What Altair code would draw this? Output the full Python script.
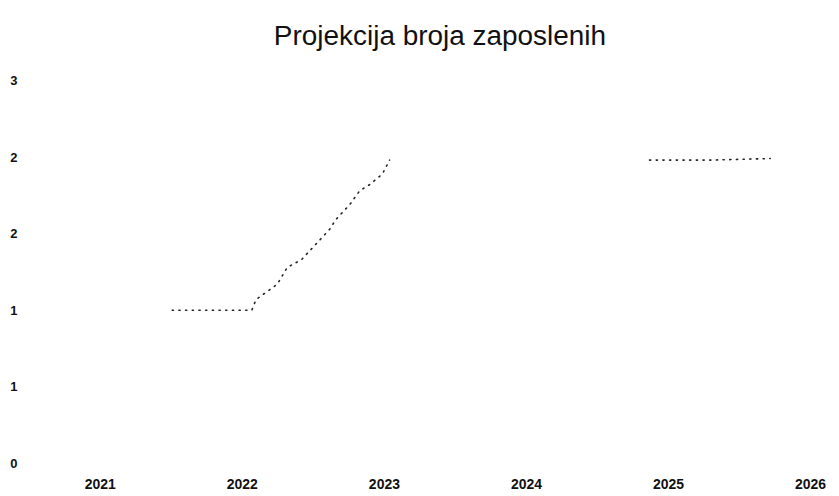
import altair as alt
import pandas as pd

# Data
seg1_year = [2021.51, 2021.75, 2021.90, 2022.07, 2022.10, 2022.16, 2022.25, 2022.32,
             2022.42, 2022.47, 2022.56, 2022.62, 2022.66, 2022.76, 2022.83, 2022.90,
             2022.99, 2023.04]
seg1_val = [1.00, 1.00, 1.00, 1.00, 1.07, 1.11, 1.17, 1.28,
            1.33, 1.38, 1.47, 1.53, 1.59, 1.69, 1.78, 1.82,
            1.89, 1.98]
seg2_year = [2024.87, 2025.30, 2025.72]
seg2_val = [1.98, 1.98, 1.99]

x_ticks = [2021, 2022, 2023, 2024, 2025, 2026]
y_ticks = [0, 0.5, 1.0, 1.5, 2.0, 2.5]

df = pd.DataFrame({
    "godina": seg1_year + seg2_year,
    "zaposleni": seg1_val + seg2_val,
    "seg": ["a"] * len(seg1_year) + ["b"] * len(seg2_year),
})

chart = alt.Chart(df).mark_line(
    color="#222222", strokeWidth=1.6, strokeDash=[1.2, 5.5], strokeCap="round"
).encode(
    x=alt.X("godina:Q", scale=alt.Scale(domain=[2021, 2026], nice=False, zero=False),
            axis=alt.Axis(values=x_ticks, format="d", title=None, grid=False, domain=False,
                          ticks=False, labelPadding=14, labelFontSize=14,
                          labelFontWeight="bold", labelFont="Liberation Sans",
                          labelColor="#111111", labelFlush=False)),
    y=alt.Y("zaposleni:Q", scale=alt.Scale(domain=[0, 2.5], nice=False),
            axis=alt.Axis(values=y_ticks, labelExpr="round(datum.value)", title=None,
                          grid=False, domain=False, ticks=False, labelPadding=83,
                          labelFontSize=13, labelFontWeight="bold",
                          labelFont="Liberation Sans", labelColor="#111111",
                          labelFlush=False)),
    detail="seg:N",
).properties(
    width=712,
    height=384,
    padding={"left": 1, "top": 14, "right": 5, "bottom": 5},
    title=alt.TitleParams("Projekcija broja zaposlenih", fontSize=28,
                          font="Liberation Sans", fontWeight="normal",
                          color="#111111", offset=24, dx=-15),
).configure_view(stroke=None)

chart.save("out.html", embed_options={"renderer": "svg", "actions": False})
